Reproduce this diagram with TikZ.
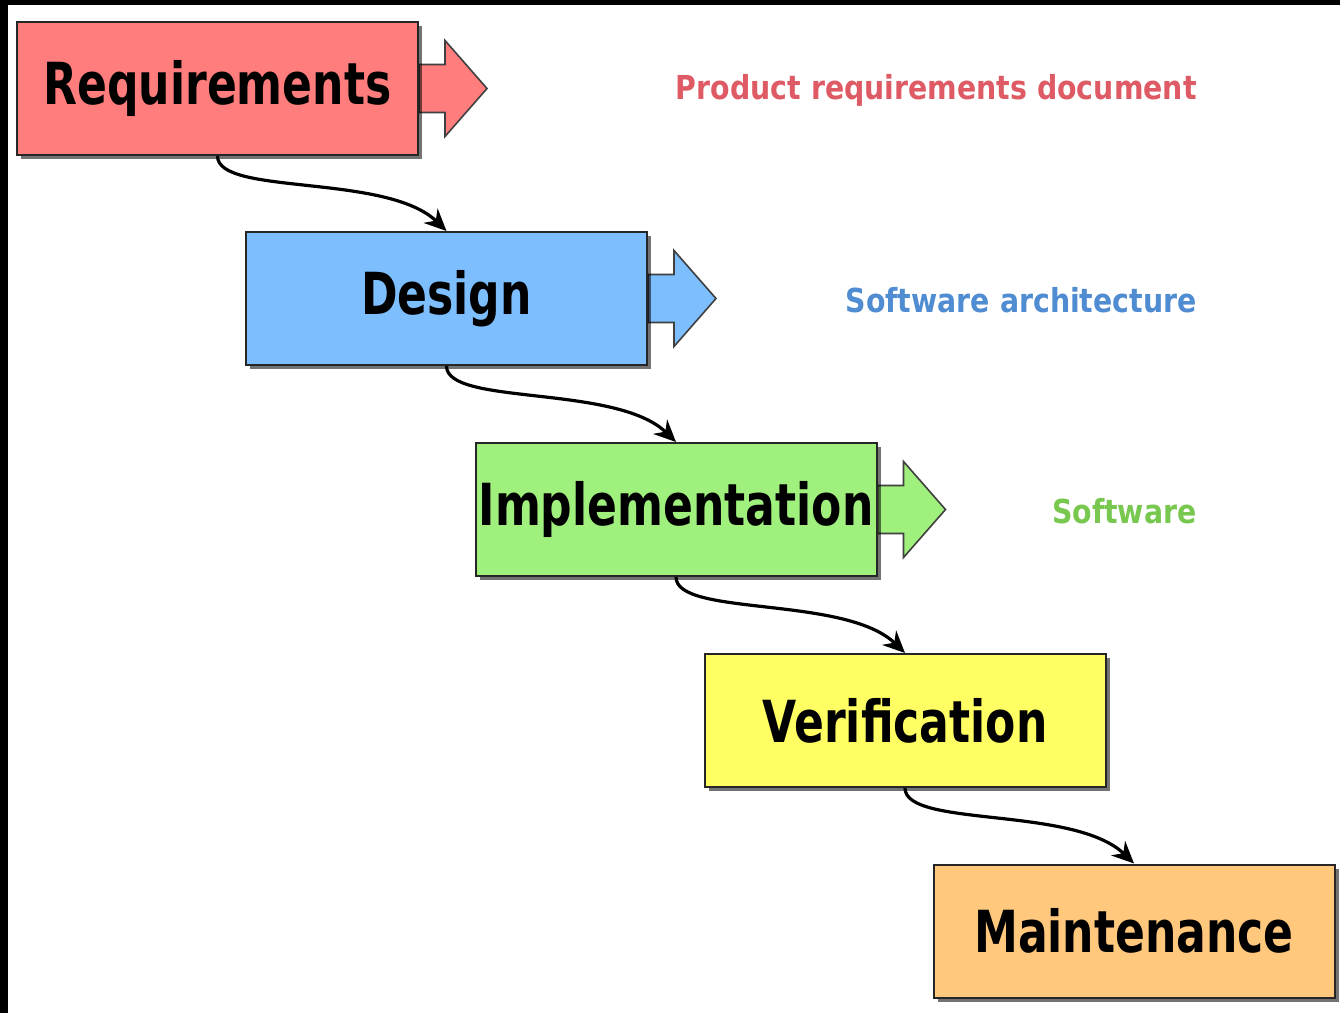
\documentclass[tikz,border=0pt]{standalone}
\usepackage{fontspec}
\setmainfont{DejaVu Sans}
\newfontfamily\boxfont[FakeStretch=0.76]{DejaVu Sans Bold}
\newfontfamily\labfont[FakeStretch=0.86]{DejaVu Sans Bold}
\usetikzlibrary{arrows.meta,shadows}
\definecolor{reqc}{RGB}{255,125,125}
\definecolor{desc}{RGB}{125,190,255}
\definecolor{impc}{RGB}{160,240,125}
\definecolor{verc}{RGB}{255,255,100}
\definecolor{mntc}{RGB}{255,200,125}
\definecolor{reqt}{RGB}{222,90,100}
\definecolor{dest}{RGB}{80,140,210}
\definecolor{impt}{RGB}{120,200,80}
\pgfdeclarelayer{back}
\pgfsetlayers{back,main}
\newcommand\sidearrow[2]{%
  \begin{pgfonlayer}{back}
  \draw[sidearr, fill=#2] ([yshift=12pt]#1.east) -- ++(26,0) -- ++(0,-24) -- ++(42,48)
     -- ++(-42,48) -- ++(0,-24) -- ++(-26,0) -- cycle;
  \end{pgfonlayer}}
\begin{document}
\begin{tikzpicture}[x=0.5pt,y=-0.5pt,
  phase/.style={draw=black!85, line width=1pt, minimum width=200.5pt, minimum height=66.5pt,
     inner sep=0pt, font=\boxfont\fontsize{29}{32}\selectfont,
     drop shadow={shadow xshift=2pt, shadow yshift=-2pt, opacity=0.55, fill=black}},
  flow/.style={line width=1.6pt, -{Stealth[length=11pt,width=10pt]}},
  sidearr/.style={draw=black!75, line width=0.8pt},
  outlab/.style={anchor=east, inner sep=0pt, font=\labfont\fontsize{16.5}{18}\selectfont}]
\useasboundingbox (0,0) rectangle (1340,1013);
\begin{pgfonlayer}{back}
\fill[white] (0,0) rectangle (1340,1013);
\fill[black] (0,0) rectangle (1340,5);
\fill[black] (0,0) rectangle (8,1013);
\end{pgfonlayer}
\node[phase, fill=reqc] (req) at (217.5,88.5) {Requirements};
\node[phase, fill=desc] (des) at (446.5,298.5) {Design};
\node[phase, fill=impc] (imp) at (676,509.5) {Implementation};
\node[phase, fill=verc] (ver) at (905,720.5) {Verification};
\node[phase, fill=mntc] (mnt) at (1134,931) {Maintenance};
\sidearrow{req}{reqc}
\sidearrow{des}{desc}
\sidearrow{imp}{impc}
\node[outlab, text=reqt] (lreq) at (1197,90) {Product requirements document};
\node[outlab, text=dest] (ldes) at (1197,300) {Software architecture};
\node[outlab, text=impt] (limp) at (1197,511) {Software};
\draw[flow] (req.south) .. controls +(0,40) and +(-60,-58) .. (des.north);
\draw[flow] (des.south) .. controls +(0,40) and +(-60,-58) .. (imp.north);
\draw[flow] (imp.south) .. controls +(0,40) and +(-60,-58) .. (ver.north);
\draw[flow] (ver.south) .. controls +(0,40) and +(-60,-58) .. (mnt.north);
\end{tikzpicture}
\end{document}
